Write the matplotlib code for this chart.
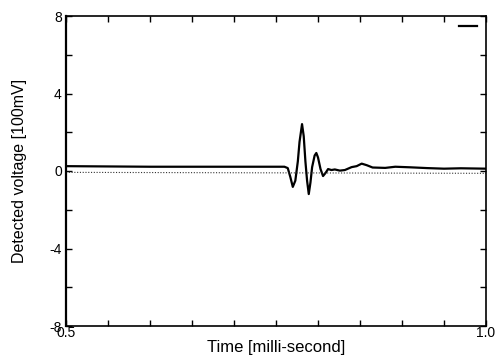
import matplotlib
matplotlib.use("Agg")
import matplotlib.pyplot as plt
from matplotlib.ticker import MultipleLocator, FixedLocator

plt.rcParams['font.family'] = ['Liberation Sans', 'DejaVu Sans']
plt.rcParams['axes.unicode_minus'] = False

time_ms = [0.500, 0.600, 0.700, 0.760, 0.764, 0.767, 0.770, 0.773, 0.776, 0.778,
           0.781, 0.783, 0.785, 0.787, 0.789, 0.791, 0.793, 0.796, 0.798, 0.800,
           0.803, 0.806, 0.809, 0.812, 0.816, 0.820, 0.826, 0.832, 0.840, 0.846,
           0.852, 0.858, 0.865, 0.880, 0.892, 0.910, 0.930, 0.950, 0.970, 1.000]
voltage = [0.25, 0.22, 0.22, 0.22, 0.15, -0.30, -0.82, -0.50, 0.50, 1.50,
           2.42, 1.80, 0.50, -0.50, -1.19, -0.60, 0.20, 0.80, 0.93, 0.70,
           0.10, -0.26, -0.10, 0.10, 0.05, 0.08, 0.02, 0.05, 0.20, 0.25,
           0.38, 0.30, 0.18, 0.16, 0.22, 0.19, 0.15, 0.12, 0.14, 0.12]

ref_time = [0.5, 1.0]
ref_voltage = [-0.07, -0.12]

fig = plt.figure(figsize=(5.0, 3.58), dpi=100)
ax = fig.add_axes([66/500, 1-326/358, 420/500, 310/358])

ax.plot(time_ms, voltage, color='black', lw=1.6, label=' ')
ax.plot(ref_time, ref_voltage, color='#333333', lw=0.8, ls=(0, (1, 1.5)))

ax.set_xlim(0.5, 1.0)
ax.set_ylim(-8, 8)
ax.xaxis.set_major_locator(FixedLocator([0.5, 1.0]))
ax.xaxis.set_minor_locator(MultipleLocator(0.05))
ax.set_xticklabels(['0.5', '1.0'])
ax.yaxis.set_major_locator(MultipleLocator(4))
ax.yaxis.set_minor_locator(MultipleLocator(2))

ax.tick_params(which='both', direction='in', top=True, right=True, labelsize=10)
ax.tick_params(which='major', length=4, width=1.0)
ax.tick_params(which='minor', length=4, width=1.0)
ax.tick_params(axis='y', pad=3)
ax.tick_params(axis='x', pad=0)
for s in ax.spines.values():
    s.set_linewidth(1.2)
ax.spines['left'].set_linewidth(1.6)

ax.set_xlabel('Time [milli-second]', fontsize=12, labelpad=0)
ax.set_ylabel('Detected voltage [100mV]', fontsize=11.5, labelpad=16)

leg = ax.legend(loc='upper right', frameon=False, handlelength=2.2,
                handletextpad=0.0, borderaxespad=0.4, fontsize=6)

fig.savefig('out.png', dpi=100)
